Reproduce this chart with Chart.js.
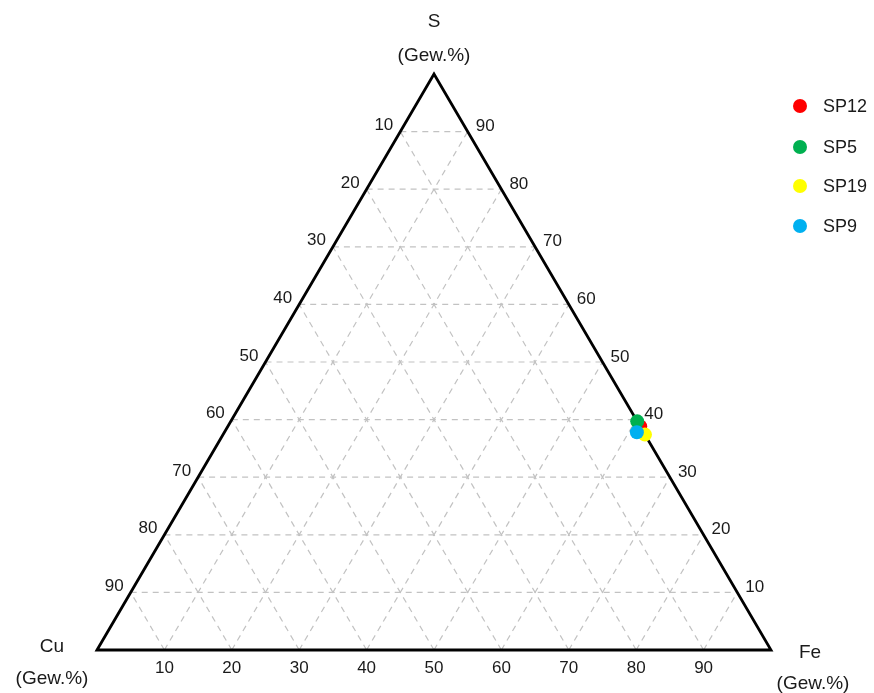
<!DOCTYPE html>
<html>
<head>
<meta charset="utf-8">
<title>Cu-Fe-S</title>
<script src="https://cdn.jsdelivr.net/npm/chart.js@4.4.1/dist/chart.umd.min.js"></script>
<style>
    html, body { margin: 0; padding: 0; background: #ffffff; }
    #wrap { position: relative; width: 874px; height: 693px; }
</style>
</head>
<body>
<div id="wrap"><canvas id="ChartCanvas1" width="874" height="693"></canvas></div>
<script>
// samples and their composition in Gew.%
const samples = ['SP12', 'SP5', 'SP19', 'SP9'];
const colors = ['#ff0000', '#00b050', '#ffff00', '#00b0f0'];
const cuValues = [0.0, 0.0, 0.0, 1.0];
const feValues = [61.2, 60.3, 62.6, 61.2];
const sValues = [38.8, 39.7, 37.4, 37.8];

// grid steps and tick labels
const gridSteps = [10, 20, 30, 40, 50, 60, 70, 80, 90];
const tickLabels = ['10', '20', '30', '40', '50', '60', '70', '80', '90'];

Initialize();

function Initialize()
{
    const ctx = document.getElementById('ChartCanvas1').getContext('2d');

    // ternary (Cu, Fe, S) -> plane: x = Fe + S/2, y = S
    function toXY(fe, s)
    {
        return { x: fe + s / 2, y: s };
    }

    const datasets = samples.map((name, i) => ({
        label: name,
        data: [toXY(feValues[i], sValues[i])],
        backgroundColor: colors[i],
        borderWidth: 0,
        pointRadius: 7,
        pointHoverRadius: 7,
        order: samples.length - i
    }));

    const ternaryPlugin = {
        id: 'ternary',
        beforeDatasetsDraw(chart)
        {
            const c = chart.ctx;
            const xs = chart.scales.x;
            const ys = chart.scales.y;
            const px = (x) => xs.getPixelForValue(x);
            const py = (y) => ys.getPixelForValue(y);

            function line(x1, y1, x2, y2)
            {
                c.beginPath();
                c.moveTo(px(x1), py(y1));
                c.lineTo(px(x2), py(y2));
                c.stroke();
            }

            c.save();
            // dashed grid
            c.strokeStyle = '#c2c2c2';
            c.lineWidth = 1.2;
            c.setLineDash([6, 5]);
            gridSteps.forEach((k) => {
                line(k / 2, k, 100 - k / 2, k);                 // S = k
                line(k, 0, k + (100 - k) / 2, 100 - k);          // Fe = k
                line(100 - k, 0, (100 - k) / 2, 100 - k);        // Cu = k
            });

            // triangle frame
            c.setLineDash([]);
            c.strokeStyle = '#000000';
            c.lineWidth = 2.8;
            c.lineJoin = 'miter';
            c.beginPath();
            c.moveTo(px(0), py(0));
            c.lineTo(px(50), py(100));
            c.lineTo(px(100), py(0));
            c.closePath();
            c.stroke();

            // tick labels
            c.fillStyle = '#1a1a1a';
            c.font = '17px "Liberation Sans", Arial, sans-serif';
            gridSteps.forEach((k, i) => {
                // Cu on the left edge
                const sLeft = 100 - k;
                c.textAlign = 'right';
                c.textBaseline = 'middle';
                c.fillText(tickLabels[i], px(sLeft / 2) - 7, py(sLeft) - 6);
                // S on the right edge
                c.textAlign = 'left';
                c.fillText(tickLabels[i], px(100 - k / 2) + 8, py(k) - 5);
                // Fe along the bottom
                c.textAlign = 'center';
                c.textBaseline = 'top';
                c.fillText(tickLabels[i], px(k), py(0) + 10);
            });

            // corner titles
            c.font = '19px "Liberation Sans", Arial, sans-serif';
            c.textAlign = 'center';
            c.textBaseline = 'middle';
            c.fillText('S', px(50), 22);
            c.fillText('(Gew.%)', px(50), 56);
            c.fillText('Cu', px(0) - 45, py(0) - 3);
            c.fillText('(Gew.%)', px(0) - 45, py(0) + 29);
            c.fillText('Fe', px(100) + 39, py(0) + 3);
            c.fillText('(Gew.%)', px(100) + 42, py(0) + 34);
            c.restore();
        },
        afterDraw(chart)
        {
            // legend on the upper right
            const c = chart.ctx;
            const rows = [106, 147, 186, 226];
            c.save();
            c.font = '18px "Liberation Sans", Arial, sans-serif';
            c.textAlign = 'left';
            c.textBaseline = 'middle';
            samples.forEach((name, i) => {
                c.fillStyle = colors[i];
                c.beginPath();
                c.arc(800, rows[i], 7, 0, Math.PI * 2);
                c.fill();
                c.fillStyle = '#1a1a1a';
                c.fillText(name, 823, rows[i] + 1);
            });
            c.restore();
        }
    };

    new Chart(ctx,
    {
        type: 'scatter',
        data: { datasets: datasets },
        options: {
            responsive: false,
            animation: false,
            layout: {
                padding: { left: 97, right: 103, top: 74, bottom: 43 }
            },
            scales: {
                x: { type: 'linear', min: 0, max: 100, display: false },
                y: { type: 'linear', min: 0, max: 100, display: false }
            },
            plugins: {
                legend: { display: false },
                tooltip: { enabled: false }
            }
        },
        plugins: [ternaryPlugin]
    });
}
</script>
</body>
</html>
